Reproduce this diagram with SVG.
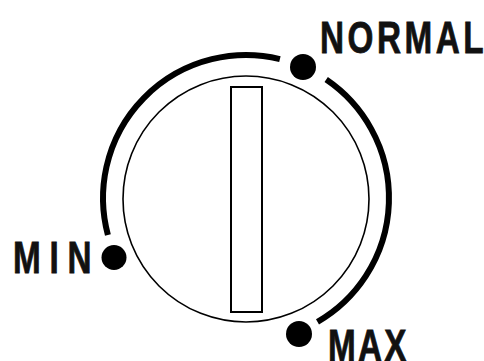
<svg xmlns="http://www.w3.org/2000/svg" width="484" height="361" viewBox="0 0 484 361">
<style>
.arc{fill:none;stroke:#000;stroke-width:6;stroke-linecap:butt}
.dot{fill:#000}
.lbl{font-family:"Liberation Sans",Arial,sans-serif;font-weight:bold;font-size:45px;fill:#111;stroke:#111;stroke-width:0.8}
</style>
<rect width="484" height="361" fill="#fff"/>
<g id="dial">
<circle cx="246" cy="199" r="123" fill="none" stroke="#000" stroke-width="1.6"/>
<rect x="231" y="87" width="31" height="225" fill="none" stroke="#000" stroke-width="2"/>
</g>
<g id="connectors">
<path class="arc" d="M107.9,235 A143,143 0 0 1 279.9,59.1"/>
<path class="arc" d="M326.2,79.6 A143,143 0 0 1 317.5,321.8"/>
</g>
<g id="min">
<circle class="dot" cx="114" cy="257.5" r="12.5"/>
<text class="lbl" transform="scale(0.74,1)" x="17.6" y="273" textLength="106" lengthAdjust="spacing">MIN</text>
</g>
<g id="normal">
<circle class="dot" cx="303" cy="67" r="13"/>
<text class="lbl" transform="scale(0.74,1)" x="432.4" y="53" textLength="221" lengthAdjust="spacing">NORMAL</text>
</g>
<g id="max">
<circle class="dot" cx="299" cy="334" r="13"/>
<text class="lbl" transform="scale(0.74,1)" x="443.2" y="361" textLength="106" lengthAdjust="spacing">MAX</text>
</g>
</svg>
